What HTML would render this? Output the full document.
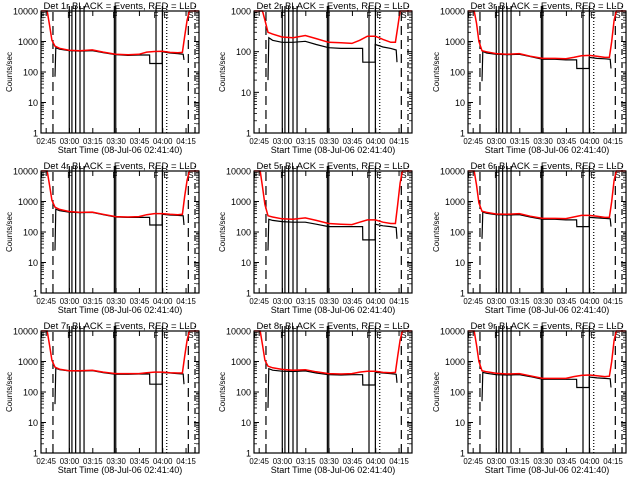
<!DOCTYPE html>
<html><head><meta charset="utf-8"><style>
html,body{margin:0;padding:0;background:#fff;}
svg{display:block;}
text{font-family:"Liberation Sans",sans-serif;fill:#000;}
</style></head><body>
<svg id="fig" width="640" height="480" viewBox="0 0 640 480" xmlns="http://www.w3.org/2000/svg"></svg>
<script>
// time in minutes from 02:41:40
const redTimes=[0,4,5.5,7,9,12,18,25,33,40,48,56,63,68,73,78,83,88,91,92.5,94,95.5,101.7];
const blackTimes=[9,9.5,12,18,25,33,40,48,56,63,69.9,70,77.9,78,83,88,91.5,92];
const detNames=["1r","2r","3r","4r","5r","6r","7r","8r","9r"];
const yMaxDecades=[4,3,4,4,4,4,4,4,4];
const red1=[15000,12000,3500,1100,700,600,520,500,530,450,380,370,380,450,470,480,440,430,440,1500,5000,12000,15000];
const red2=[15000,12000,3000,600,300,270,230,220,250,210,170,165,160,190,240,240,200,170,170,400,3000,12000,15000];
const red3=[15000,12000,4000,1000,500,460,400,380,400,330,280,280,270,300,340,350,330,300,300,1000,5000,12000,15000];
const red4=[15000,12000,3500,1100,650,550,470,440,450,380,320,310,320,370,400,400,380,370,380,1500,5000,12000,15000];
const red5=[15000,12000,3000,800,340,310,270,260,290,240,190,180,175,210,250,250,210,190,190,800,4000,12000,15000];
const red6=[15000,12000,3500,900,480,440,390,380,400,330,280,280,275,310,350,350,330,300,300,1000,5000,12000,15000];
const red7=[15000,12000,3500,1100,650,560,500,500,520,450,400,400,400,430,450,450,430,420,420,1500,5000,12000,15000];
const red8=[15000,12000,3500,1100,700,620,550,520,540,460,400,390,400,450,480,480,440,430,440,1500,5000,12000,15000];
const red9=[15000,12000,3500,1000,500,460,410,390,400,340,280,280,280,320,350,360,340,320,330,1000,5000,12000,15000];
const black1=[70,620,560,500,480,500,430,370,350,360,360,190,190,460,420,400,380,250];
const black2=[20,220,190,170,170,180,150,125,120,120,120,55,55,150,130,120,110,55];
const black3=[50,470,420,380,370,380,320,260,260,250,250,130,130,300,280,270,260,130];
const black4=[25,560,500,450,430,440,370,310,300,300,300,170,170,380,360,350,340,170];
const black5=[25,260,240,220,210,210,180,150,150,150,150,55,55,180,160,150,140,60];
const black6=[60,450,410,370,360,370,310,260,260,250,250,150,150,300,290,280,270,150];
const black7=[40,600,540,490,480,500,430,380,380,390,390,180,180,430,420,400,390,180];
const black8=[30,580,520,480,470,490,420,370,360,370,370,170,170,440,420,400,380,200];
const black9=[50,440,410,370,360,370,320,260,260,260,260,140,140,310,290,280,270,140];
const redSeries=[red1,red2,red3,red4,red5,red6,red7,red8,red9];
const blackSeries=[black1,black2,black3,black4,black5,black6,black7,black8,black9];
const xTickTimes=[3.33,18.33,33.33,48.33,63.33,78.33,93.33];
const xTickLabels=["02:45","03:00","03:15","03:30","03:45","04:00","04:15"];
const solidLineTimes=[18.2,19.9,22.3,25.1,27.7,47.2,48.1,74,78.1];
const dashedLineTimes=[7.7,94.8];
const dottedLineTimes=[80.9];
const dashDotLineTimes=[99.1];
const markerTimes=[1.5,18.5,47.5,74,80.5,96.5];
const markerLetters=["E","F","F","F","E","S"];

const NS="http://www.w3.org/2000/svg";
const fig=document.getElementById('fig');
const BL=41,BR=199,BT=11,BB=133,TMAX=101.67;
function mk(tag,attrs,parent){const e=document.createElementNS(NS,tag);for(const k in attrs)e.setAttribute(k,attrs[k]);parent.appendChild(e);return e;}

for(let p=0;p<9;p++){
  const ox=[0,213,427][p%3], oy=[0,160,320][Math.floor(p/3)];
  const g=mk('g',{transform:`translate(${ox},${oy})`},fig);
  
  
  const nd=yMaxDecades[p];
  const xs=t=>BL+t*(BR-BL)/TMAX;
  const ys=v=>{let y=BB-Math.log10(v)*(BB-BT)/nd;return Math.max(BT,Math.min(BB,y));};
  const cid='clip'+p;
  const cp=mk('clipPath',{id:cid},g);mk('rect',{x:BL,y:BT-6,width:BR-BL,height:BB-BT+6},cp);
  const vl=mk('g',{'clip-path':`url(#${cid})`},g);
  
  
  const addV=(arr,dash,name)=>arr.forEach(t=>{const l=mk('line',{x1:xs(t),x2:xs(t),y1:BB,y2:BT-5,stroke:'#000','stroke-width':1.2,'stroke-dasharray':dash},vl);
    
    });
  addV(solidLineTimes,'none','solid-event-line');
  addV(dashedLineTimes,'9,5','dashed-event-line');
  addV(dottedLineTimes,'1,2','dotted-event-line');
  addV(dashDotLineTimes,'6,3,1,3','dashdot-event-line');
  markerTimes.forEach((t,i)=>{const tx=mk('text',{x:xs(t),y:BT+7,'font-size':8,'text-anchor':'middle'},g);tx.textContent=markerLetters[i];
    
    });
  const dg=mk('g',{'clip-path':`url(#${cid})`},g);
  const bk=blackSeries[p];
  let d='';blackTimes.forEach((t,i)=>{d+=(i?'L':'M')+xs(t).toFixed(1)+','+ys(bk[i]).toFixed(1);});
  const bl=mk('path',{d:d,fill:'none',stroke:'#000','stroke-width':1.2},dg);
  
  
  const rd=redSeries[p];
  d='';redTimes.forEach((t,i)=>{d+=(i?'L':'M')+xs(t).toFixed(1)+','+ys(rd[i]).toFixed(1);});
  const rl=mk('path',{d:d,fill:'none',stroke:'#ff0000','stroke-width':1.5},dg);
  
  
  const box=mk('rect',{x:BL,y:BT,width:BR-BL,height:BB-BT,fill:'none',stroke:'#000','stroke-width':1.2},g);
  
  
  for(let k=0;k<=nd;k++){
    const y=BB-k*(BB-BT)/nd;
    mk('line',{x1:BL,x2:BL+5,y1:y,y2:y,stroke:'#000'},g);mk('line',{x1:BR,x2:BR-5,y1:y,y2:y,stroke:'#000'},g);
    const lab=mk('text',{x:BL-3,y:y+3.5,'font-size':9,'text-anchor':'end'},g);lab.textContent=String(Math.pow(10,k));
    
    
    if(k<nd)for(let m=2;m<10;m++){const ym=BB-(k+Math.log10(m))*(BB-BT)/nd;
      mk('line',{x1:BL,x2:BL+3,y1:ym,y2:ym,stroke:'#000','stroke-width':0.8},g);mk('line',{x1:BR,x2:BR-3,y1:ym,y2:ym,stroke:'#000','stroke-width':0.8},g);}
  }
  xTickTimes.forEach((t,i)=>{const x=xs(t);
    mk('line',{x1:x,x2:x,y1:BB,y2:BB-5,stroke:'#000'},g);mk('line',{x1:x,x2:x,y1:BT,y2:BT+5,stroke:'#000'},g);
    const lab=mk('text',{x:x,y:BB+11,'font-size':7.8,'text-anchor':'middle'},g);lab.textContent=xTickLabels[i];
    
    });
  const ti=mk('text',{x:(BL+BR)/2,y:9,'font-size':9.5,'text-anchor':'middle'},g);ti.textContent='Det '+detNames[p]+' BLACK = Events, RED = LLD';
  
  
  const xl=mk('text',{x:(BL+BR)/2,y:BB+20,'font-size':9,'text-anchor':'middle'},g);xl.textContent='Start Time (08-Jul-06 02:41:40)';
  
  
  const yl=mk('text',{x:0,y:0,'font-size':8,'text-anchor':'middle',transform:`translate(12,${(BT+BB)/2}) rotate(-90)`},g);yl.textContent='Counts/sec';
  
  
}
</script>
</body></html>
